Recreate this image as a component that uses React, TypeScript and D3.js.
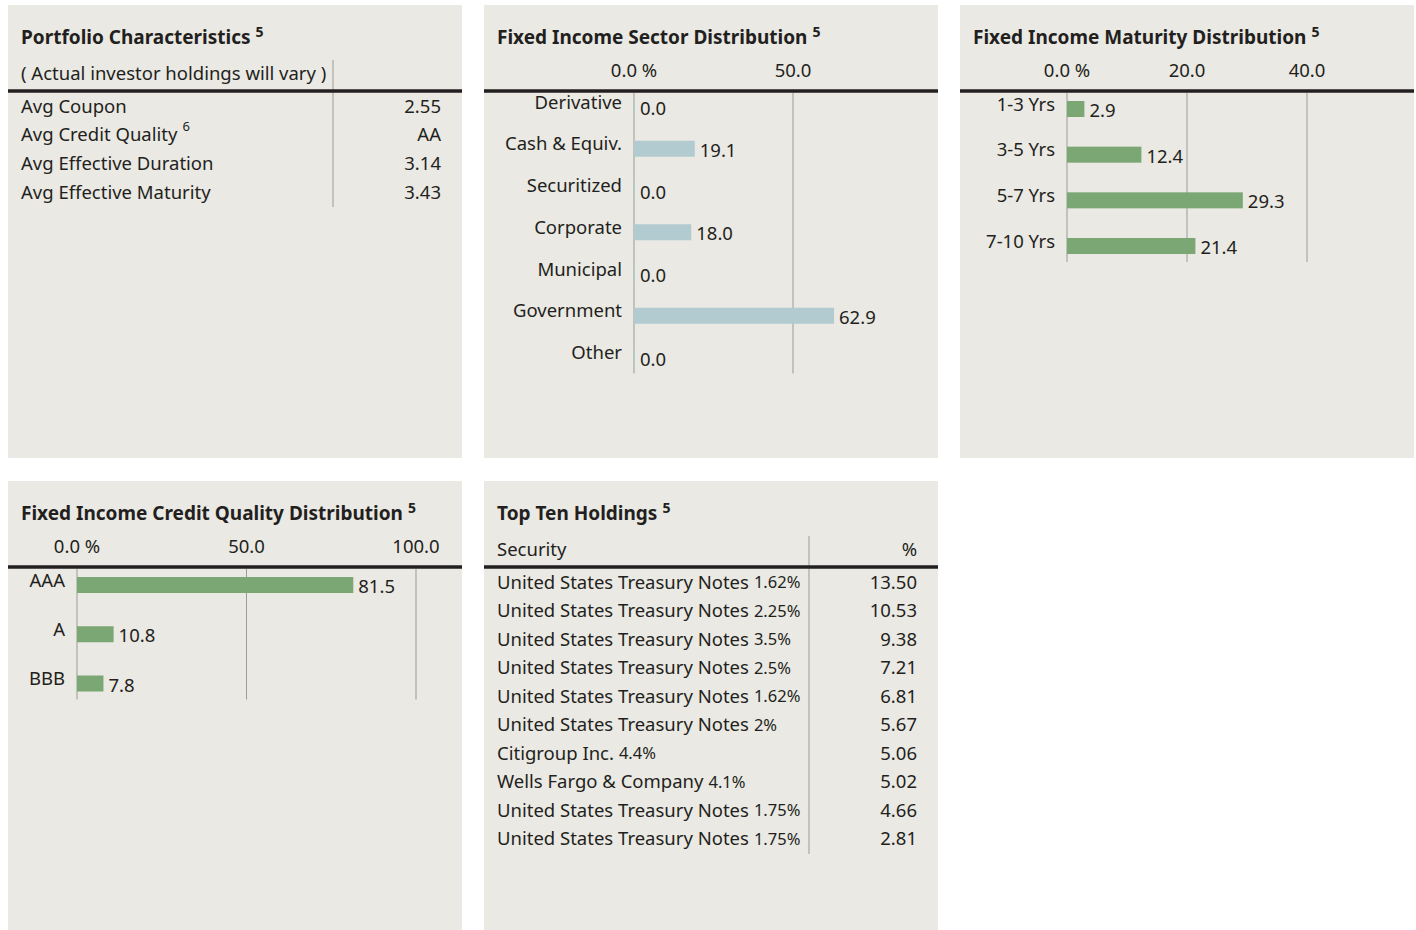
import React from "react";
import * as d3 from "d3";

// ---- data ----
const portfolioLabels = ["Avg Coupon", "Avg Credit Quality", "Avg Effective Duration", "Avg Effective Maturity"];
const portfolioNotes = ["", "6", "", ""];
const portfolioValues = ["2.55", "AA", "3.14", "3.43"];

const sectorNames = ["Derivative", "Cash & Equiv.", "Securitized", "Corporate", "Municipal", "Government", "Other"];
const sectorValues = [0.0, 19.1, 0.0, 18.0, 0.0, 62.9, 0.0];
const sectorTicks = [0, 50];

const maturityNames = ["1-3 Yrs", "3-5 Yrs", "5-7 Yrs", "7-10 Yrs"];
const maturityValues = [2.9, 12.4, 29.3, 21.4];
const maturityTicks = [0, 20, 40];

const creditNames = ["AAA", "A", "BBB"];
const creditValues = [81.5, 10.8, 7.8];
const creditTicks = [0, 50, 100];

const holdingIssuers = [
  "United States Treasury Notes",
  "United States Treasury Notes",
  "United States Treasury Notes",
  "United States Treasury Notes",
  "United States Treasury Notes",
  "United States Treasury Notes",
  "Citigroup Inc.",
  "Wells Fargo & Company",
  "United States Treasury Notes",
  "United States Treasury Notes"
];
const holdingCoupons = ["1.62%", "2.25%", "3.5%", "2.5%", "1.62%", "2%", "4.4%", "4.1%", "1.75%", "1.75%"];
const holdingWeights = ["13.50", "10.53", "9.38", "7.21", "6.81", "5.67", "5.06", "5.02", "4.66", "2.81"];

// ---- style ----
const FONT = "'Noto Sans', 'Open Sans', sans-serif";
const BG = "#eae9e3";
const INK = "#231f20";
const GRID = "#9b9b97";
const BLUE = "#b1cbd0";
const GREEN = "#7ba774";
const PW = 454;
const FS = 18.5;
const fmt = d3.format(".1f");

const Title = ({ text }: { text: string }) => (
  <text x={13} y={39} fontSize={19} fontWeight={700} fill={INK}>
    {text}
    <tspan fontSize={14} dx={5} dy={-7}>5</tspan>
  </text>
);

const Rule = ({ y }: { y: number }) => (
  <line x1={0} x2={PW} y1={y} y2={y} stroke={INK} strokeWidth={3.5} />
);

type BarProps = {
  names: string[];
  values: number[];
  ticks: number[];
  domainMax: number;
  x0: number;
  x1: number;
  firstY: number;
  step: number;
  color: string;
};

const BarPanel = ({ names, values, ticks, domainMax, x0, x1, firstY, step, color }: BarProps) => {
  const x = d3.scaleLinear().domain([0, domainMax]).range([x0, x1]);
  const y = d3
    .scalePoint<string>()
    .domain(names)
    .range([firstY, firstY + (names.length - 1) * step]);
  const ruleY = 86;
  const gridEnd = (y(names[names.length - 1]) as number) + 16;
  return (
    <g>
      {ticks.map((t, i) => (
        <g key={t}>
          <text x={x(t)} y={64.5} textAnchor="middle" dominantBaseline="central" fontSize={FS} fill={INK}>
            {fmt(t) + (i === 0 ? " %" : "")}
          </text>
          <line x1={x(t)} x2={x(t)} y1={ruleY + 2} y2={gridEnd} stroke={GRID} strokeWidth={1} />
        </g>
      ))}
      <Rule y={ruleY} />
      {names.map((n, i) => {
        const cy = y(n) as number;
        const w = Math.max(x(values[i]) - x(0), 1);
        return (
          <g key={n}>
            <text x={x0 - 12} y={cy - 6} textAnchor="end" dominantBaseline="central" fontSize={FS} fill={INK}>
              {n}
            </text>
            <rect x={x(0)} y={cy - 8} width={w} height={16} fill={color} />
            <text x={x(0) + w + 5} y={cy + 0.5} dominantBaseline="central" fontSize={FS} fill={INK}>
              {fmt(values[i])}
            </text>
          </g>
        );
      })}
    </g>
  );
};

const TablePanel = ({
  header,
  headerRight,
  rows,
  step,
  lineEnd
}: {
  header: string;
  headerRight: string;
  rows: { label: React.ReactNode; value: string }[];
  step: number;
  lineEnd: number;
}) => {
  const y = d3
    .scaleLinear()
    .domain([0, 1])
    .range([100, 100 + step]);
  return (
    <g>
      <text x={13} y={67} dominantBaseline="central" fontSize={FS} fill={INK}>
        {header}
      </text>
      <text x={433} y={67} textAnchor="end" dominantBaseline="central" fontSize={FS} fill={INK}>
        {headerRight}
      </text>
      <line x1={325} x2={325} y1={55} y2={lineEnd} stroke={GRID} strokeWidth={1} />
      <Rule y={86} />
      {rows.map((r, i) => (
        <g key={i}>
          <text x={13} y={y(i)} dominantBaseline="central" fontSize={FS} fill={INK}>
            {r.label}
          </text>
          <text x={433} y={y(i)} textAnchor="end" dominantBaseline="central" fontSize={FS} fill={INK}>
            {r.value}
          </text>
        </g>
      ))}
    </g>
  );
};

const Panel = ({ x, y, h, children }: { x: number; y: number; h: number; children: React.ReactNode }) => (
  <g transform={`translate(${x},${y})`}>
    <rect width={PW} height={h} fill={BG} />
    {children}
  </g>
);

export default function App() {
  const portfolioRows = portfolioLabels.map((l, i) => ({
    label: (
      <>
        {l}
        {portfolioNotes[i] && (
          <tspan fontSize={13} dx={5} dy={-8}>
            {portfolioNotes[i]}
          </tspan>
        )}
      </>
    ),
    value: portfolioValues[i]
  }));
  const holdingRows = holdingIssuers.map((n, i) => ({
    label: (
      <>
        {n}
        <tspan fontSize={16.5} dx={5}>{holdingCoupons[i]}</tspan>
      </>
    ),
    value: holdingWeights[i]
  }));

  return (
    <svg
      width={1416}
      height={930}
      style={{ position: "absolute", left: 0, top: 0, background: "#fff" }}
      fontFamily={FONT}
    >
      <Panel x={8} y={5} h={453}>
        <Title text="Portfolio Characteristics" />
        <TablePanel
          header="( Actual investor holdings will vary )"
          headerRight=""
          rows={portfolioRows}
          step={28.7}
          lineEnd={202}
        />
      </Panel>
      <Panel x={484} y={5} h={453}>
        <Title text="Fixed Income Sector Distribution" />
        <BarPanel
          names={sectorNames}
          values={sectorValues}
          ticks={sectorTicks}
          domainMax={50}
          x0={150}
          x1={309}
          firstY={102}
          step={41.75}
          color={BLUE}
        />
      </Panel>
      <Panel x={960} y={5} h={453}>
        <Title text="Fixed Income Maturity Distribution" />
        <BarPanel
          names={maturityNames}
          values={maturityValues}
          ticks={maturityTicks}
          domainMax={40}
          x0={107}
          x1={347}
          firstY={104}
          step={45.67}
          color={GREEN}
        />
      </Panel>
      <Panel x={8} y={481} h={449}>
        <Title text="Fixed Income Credit Quality Distribution" />
        <BarPanel
          names={creditNames}
          values={creditValues}
          ticks={creditTicks}
          domainMax={100}
          x0={69}
          x1={408}
          firstY={104}
          step={49.25}
          color={GREEN}
        />
      </Panel>
      <Panel x={484} y={481} h={449}>
        <Title text="Top Ten Holdings" />
        <TablePanel header="Security" headerRight="%" rows={holdingRows} step={28.55} lineEnd={373} />
      </Panel>
    </svg>
  );
}
